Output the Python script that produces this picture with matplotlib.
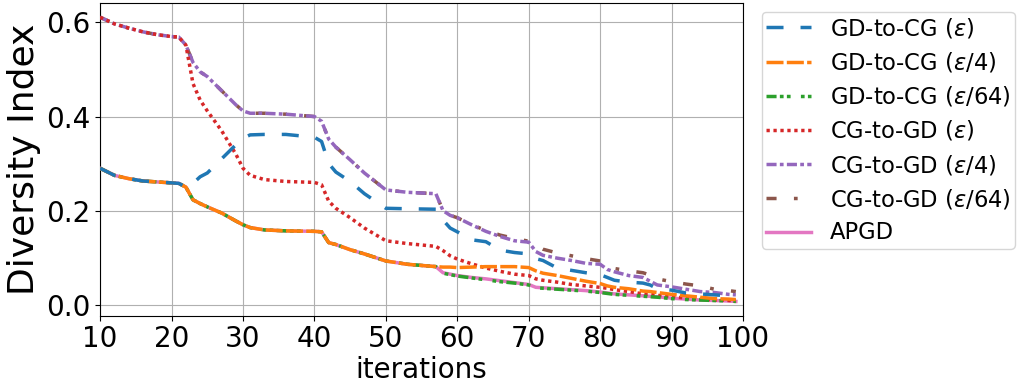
import matplotlib
matplotlib.use('Agg')
import matplotlib.pyplot as plt

# iteration checkpoints
iters = [10, 12, 14, 16, 18, 20, 21, 22, 23, 24, 25, 27, 29, 30, 31, 33, 36,
         40, 41, 42, 43, 45, 47, 50, 53, 57, 58, 59, 60, 62, 64, 66, 68, 70,
         71, 72, 74, 76, 78, 80, 81, 82, 84, 86, 87, 88, 90, 92, 94, 96, 98, 99]

gd_cg_eps = [.290, .275, .268, .263, .261, .259, .258, .250, .258, .272, .280, .310, .340,
             .354, .361, .362, .362, .356, .347, .300, .282, .262, .236, .205, .204, .203,
             .180, .163, .155, .138, .134, .116, .111, .108, .098, .094, .078, .073, .068,
             .064, .058, .052, .048, .046, .042, .034, .031, .025, .023, .021, .019, .017]
gd_cg_eps4 = [.290, .275, .268, .263, .261, .259, .258, .250, .223, .215, .208, .195, .178,
              .170, .164, .159, .157, .156, .155, .132, .128, .117, .108, .093, .086, .081,
              .080, .080, .079, .080, .081, .081, .081, .079, .072, .067, .062, .056, .050,
              .045, .040, .037, .034, .029, .028, .026, .022, .019, .016, .013, .012, .011]
gd_cg_eps64 = [.290, .275, .268, .263, .261, .259, .258, .250, .223, .215, .208, .195, .178,
               .170, .164, .159, .157, .156, .155, .132, .128, .117, .108, .093, .086, .081,
               .067, .064, .061, .057, .053, .049, .046, .042, .036, .035, .033, .031, .029,
               .026, .024, .022, .020, .018, .017, .016, .013, .011, .010, .009, .008, .007]
cg_gd_eps = [.611, .597, .588, .580, .574, .570, .569, .552, .470, .435, .412, .370, .320,
             .290, .275, .266, .262, .260, .255, .220, .205, .185, .163, .136, .130, .124,
             .115, .104, .097, .087, .078, .071, .065, .062, .055, .052, .048, .043, .040,
             .037, .035, .032, .028, .023, .022, .020, .017, .014, .012, .010, .009, .008]
cg_gd_eps4 = [.611, .597, .588, .580, .574, .570, .569, .552, .515, .495, .485, .455, .425,
              .412, .407, .407, .405, .400, .390, .352, .335, .308, .280, .244, .239, .236,
              .200, .190, .185, .170, .156, .145, .136, .133, .113, .105, .099, .094, .088,
              .086, .075, .070, .062, .058, .050, .042, .038, .033, .028, .026, .022, .021]
cg_gd_eps64 = [.611, .597, .588, .580, .574, .570, .569, .552, .515, .495, .485, .455, .425,
               .412, .407, .407, .405, .400, .390, .352, .335, .308, .280, .244, .239, .236,
               .200, .190, .185, .170, .158, .148, .141, .135, .126, .118, .110, .104, .098,
               .093, .085, .077, .072, .068, .063, .055, .049, .044, .040, .033, .030, .028]
apgd = [.290, .275, .268, .263, .261, .259, .258, .250, .223, .215, .208, .195, .178,
        .170, .164, .159, .157, .156, .155, .132, .128, .117, .108, .093, .086, .081,
        .068, .065, .062, .058, .055, .051, .047, .043, .037, .036, .034, .032, .030,
        .027, .025, .023, .021, .019, .018, .017, .014, .012, .010, .009, .008, .007]

labels = [r'GD-to-CG ($\epsilon$)', r'GD-to-CG ($\epsilon$/4)', r'GD-to-CG ($\epsilon$/64)',
          r'CG-to-GD ($\epsilon$)', r'CG-to-GD ($\epsilon$/4)', r'CG-to-GD ($\epsilon$/64)', 'APGD']
series = [gd_cg_eps, gd_cg_eps4, gd_cg_eps64, cg_gd_eps, cg_gd_eps4, cg_gd_eps64, apgd]
dash_styles = [(4.9, 4.9),
               (4.9, 0.95),
               (2.9, 0.95, 1.07, 0.95, 1.07, 2.97, 1.07, 0.95, 1.07, 0.95),
               (0.95, 1.05),
               (2.9, 0.95, 1.07, 0.95),
               (2.9, 5.0, 1.07, 5.0),
               None]
colors = ['#1f77b4', '#ff7f0e', '#2ca02c', '#d62728', '#9467bd', '#8c564b', '#e377c2']

fig = plt.figure(figsize=(10.22, 3.84), dpi=100)
ax = fig.add_axes([0.098, 0.178, 0.629, 0.814])

# earlier series sit on top of the later ones
for i, (ys, lab, ds, c) in enumerate(zip(series, labels, dash_styles, colors)):
    line, = ax.plot(iters, ys, color=c, lw=2.5, label=lab, zorder=10 - i)
    if ds is not None:
        line.set_dashes(ds)

ax.set_xlim(10, 100)
ax.set_xticks(range(10, 101, 10))
ax.grid(True)
ax.tick_params(labelsize=20)
ax.set_xlabel('iterations', fontsize=20, labelpad=2)
ax.set_ylabel('Diversity Index', fontsize=26)
ax.legend(loc='upper left', bbox_to_anchor=(1.029, 0.972), borderaxespad=0,
          fontsize=16.3, borderpad=0.2, labelspacing=0.45)

fig.savefig('out.png', dpi=100)
